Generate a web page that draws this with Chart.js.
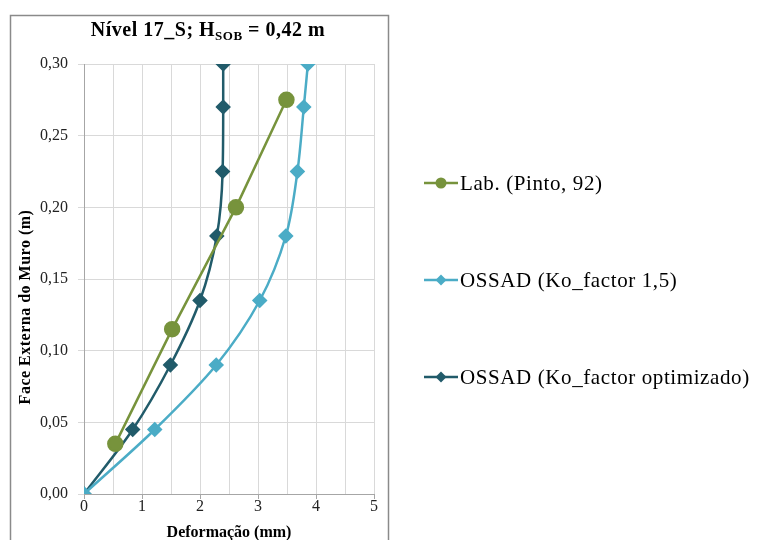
<!DOCTYPE html>
<html>
<head>
<meta charset="utf-8">
<script src="https://cdn.jsdelivr.net/npm/chart.js@4/dist/chart.umd.min.js"></script>
<style>
  html, body { margin: 0; padding: 0; background: #fff; }
  #wrap { width: 758px; height: 540px; position: relative; }
</style>
</head>
<body>
<div id="wrap"><canvas id="c" width="758" height="540"></canvas></div>
<script>
// Face height of the wall (m) at each measurement level
const labDepth = [0.035, 0.115, 0.200, 0.275];
const labDef   = [0.54, 1.52, 2.62, 3.49];

const ko15Depth = [0, 0.045, 0.090, 0.135, 0.180, 0.225, 0.270, 0.300];
const ko15Def   = [0, 1.22, 2.28, 3.03, 3.48, 3.68, 3.79, 3.86];

const optDepth = [0, 0.045, 0.090, 0.135, 0.180, 0.225, 0.270, 0.300];
const optDef   = [0, 0.84, 1.49, 2.00, 2.29, 2.39, 2.40, 2.40];

const seriesNames = ['Lab. (Pinto, 92)', 'OSSAD (Ko_factor 1,5)', 'OSSAD (Ko_factor optimizado)'];
const xTicks = [0, 1, 2, 3, 4, 5];
const yTicks = [0, 0.05, 0.10, 0.15, 0.20, 0.25, 0.30];
const yTitle = 'Face Externa do Muro (m)';

const SERIF = '"Liberation Serif", "Times New Roman", serif';

const pairs = (xs, ys) => xs.map((x, i) => ({ x: x, y: ys[i] }));

// Outer frame, chart title and vertical axis title
const framePlugin = {
  id: 'frame',
  beforeDraw(chart) {
    const ctx = chart.ctx;
    ctx.save();
    ctx.fillStyle = '#fff';
    ctx.fillRect(0, 0, chart.width, chart.height);
    ctx.strokeStyle = '#8a8a8a';
    ctx.lineWidth = 1.5;
    ctx.strokeRect(10.5, 15.5, 378, 540);
    ctx.restore();
  },
  afterDraw(chart) {
    const ctx = chart.ctx;
    ctx.save();
    ctx.fillStyle = '#000';
    ctx.textBaseline = 'alphabetic';
    ctx.letterSpacing = '0.5px';
    const big = 'bold 20px ' + SERIF;
    const small = 'bold 13px ' + SERIF;
    const parts = [
      { t: 'Nível 17_S; H', f: big, dy: 0 },
      { t: 'SOB', f: small, dy: 4 },
      { t: ' = 0,42 m', f: big, dy: 0 }
    ];
    let w = 0;
    parts.forEach(p => { ctx.font = p.f; p.w = ctx.measureText(p.t).width; w += p.w; });
    let x = 208 - w / 2;
    const base = 36;
    parts.forEach(p => { ctx.font = p.f; ctx.fillText(p.t, x, base + p.dy); x += p.w; });
    ctx.restore();

    ctx.save();
    ctx.translate(26, 307);
    ctx.rotate(-Math.PI / 2);
    ctx.fillStyle = '#000';
    ctx.font = 'bold 16px ' + SERIF;
    ctx.letterSpacing = '0.5px';
    ctx.textAlign = 'center';
    ctx.textBaseline = 'middle';
    ctx.fillText(yTitle, 0, 0);
    ctx.restore();
  }
};

// Legend to the right of the plot, one entry per dataset
const legendPlugin = {
  id: 'sideLegend',
  afterDraw(chart) {
    const ctx = chart.ctx;
    const rows = [183, 280, 377];
    chart.data.datasets.forEach((ds, i) => {
      const y = rows[i];
      ctx.save();
      ctx.strokeStyle = ds.borderColor;
      ctx.lineWidth = ds.borderWidth;
      ctx.beginPath();
      ctx.moveTo(424, y);
      ctx.lineTo(458, y);
      ctx.stroke();
      ctx.fillStyle = ds.pointBackgroundColor;
      ctx.beginPath();
      if (ds.pointStyle === 'circle') {
        ctx.arc(441, y, 5.5, 0, Math.PI * 2);
      } else {
        ctx.moveTo(441, y - 5.5); ctx.lineTo(446.5, y); ctx.lineTo(441, y + 5.5); ctx.lineTo(435.5, y); ctx.closePath();
      }
      ctx.fill();
      ctx.fillStyle = '#000';
      ctx.font = '21px ' + SERIF;
      ctx.letterSpacing = '0.6px';
      ctx.textBaseline = 'middle';
      ctx.fillText(seriesNames[i], 460, y + 1);
      ctx.restore();
    });
  }
};

const GREEN = '#77933C';
const LIGHT = '#4BACC6';
const DARK = '#215B6A';

new Chart(document.getElementById('c'), {
  type: 'line',
  data: {
    datasets: [
      {
        label: seriesNames[0],
        data: pairs(labDef, labDepth),
        borderColor: GREEN, backgroundColor: GREEN,
        pointBackgroundColor: GREEN, pointBorderColor: GREEN,
        borderWidth: 2.5, pointStyle: 'circle', pointRadius: 7, tension: 0
      },
      {
        label: seriesNames[1],
        data: pairs(ko15Def, ko15Depth),
        borderColor: LIGHT, backgroundColor: LIGHT,
        pointBackgroundColor: LIGHT, pointBorderColor: LIGHT,
        borderWidth: 2.5, pointStyle: 'rectRot', pointRadius: 6, tension: 0.4,
        cubicInterpolationMode: 'monotone'
      },
      {
        label: seriesNames[2],
        data: pairs(optDef, optDepth),
        borderColor: DARK, backgroundColor: DARK,
        pointBackgroundColor: DARK, pointBorderColor: DARK,
        borderWidth: 2.5, pointStyle: 'rectRot', pointRadius: 6, tension: 0.4,
        cubicInterpolationMode: 'monotone'
      }
    ]
  },
  options: {
    responsive: false,
    animation: false,
    indexAxis: 'y',
    layout: { padding: { left: 10, top: 64, right: 384, bottom: 0 } },
    plugins: { legend: { display: false }, title: { display: false }, tooltip: { enabled: false } },
    scales: {
      x: {
        type: 'linear', position: 'bottom',
        min: xTicks[0], max: xTicks[xTicks.length - 1],
        afterFit(s) { s.height = 46; },
        ticks: {
          stepSize: 0.5, autoSkip: false, padding: -2,
          color: '#222', font: { family: SERIF, size: 16 },
          callback: v => Number.isInteger(v) && xTicks.includes(v) ? String(v) : ''
        },
        grid: {
          color: '#D9D9D9', lineWidth: 1, tickLength: 5,
          tickColor: c => (c.tick && Number.isInteger(c.tick.value)) ? '#A6A6A6' : 'rgba(0,0,0,0)'
        },
        border: { color: '#A6A6A6', width: 1 },
        title: {
          display: true, text: 'Deformação (mm)',
          font: { family: SERIF, size: 16, weight: 'bold' }, color: '#000',
          padding: { top: 0, bottom: -2 }
        }
      },
      y: {
        type: 'linear',
        min: yTicks[0], max: yTicks[yTicks.length - 1],
        afterFit(s) { s.width = 74; },
        afterBuildTicks(s) { s.ticks = yTicks.map(v => ({ value: v })); },
        ticks: {
          padding: 10, color: '#222', font: { family: SERIF, size: 16 },
          callback: v => v.toFixed(2).replace('.', ',')
        },
        grid: { color: '#D9D9D9', lineWidth: 1, tickLength: 6, tickColor: '#D9D9D9' },
        border: { color: '#A6A6A6', width: 1 },
        title: { display: false }
      }
    }
  },
  plugins: [framePlugin, legendPlugin]
});
</script>
</body>
</html>
